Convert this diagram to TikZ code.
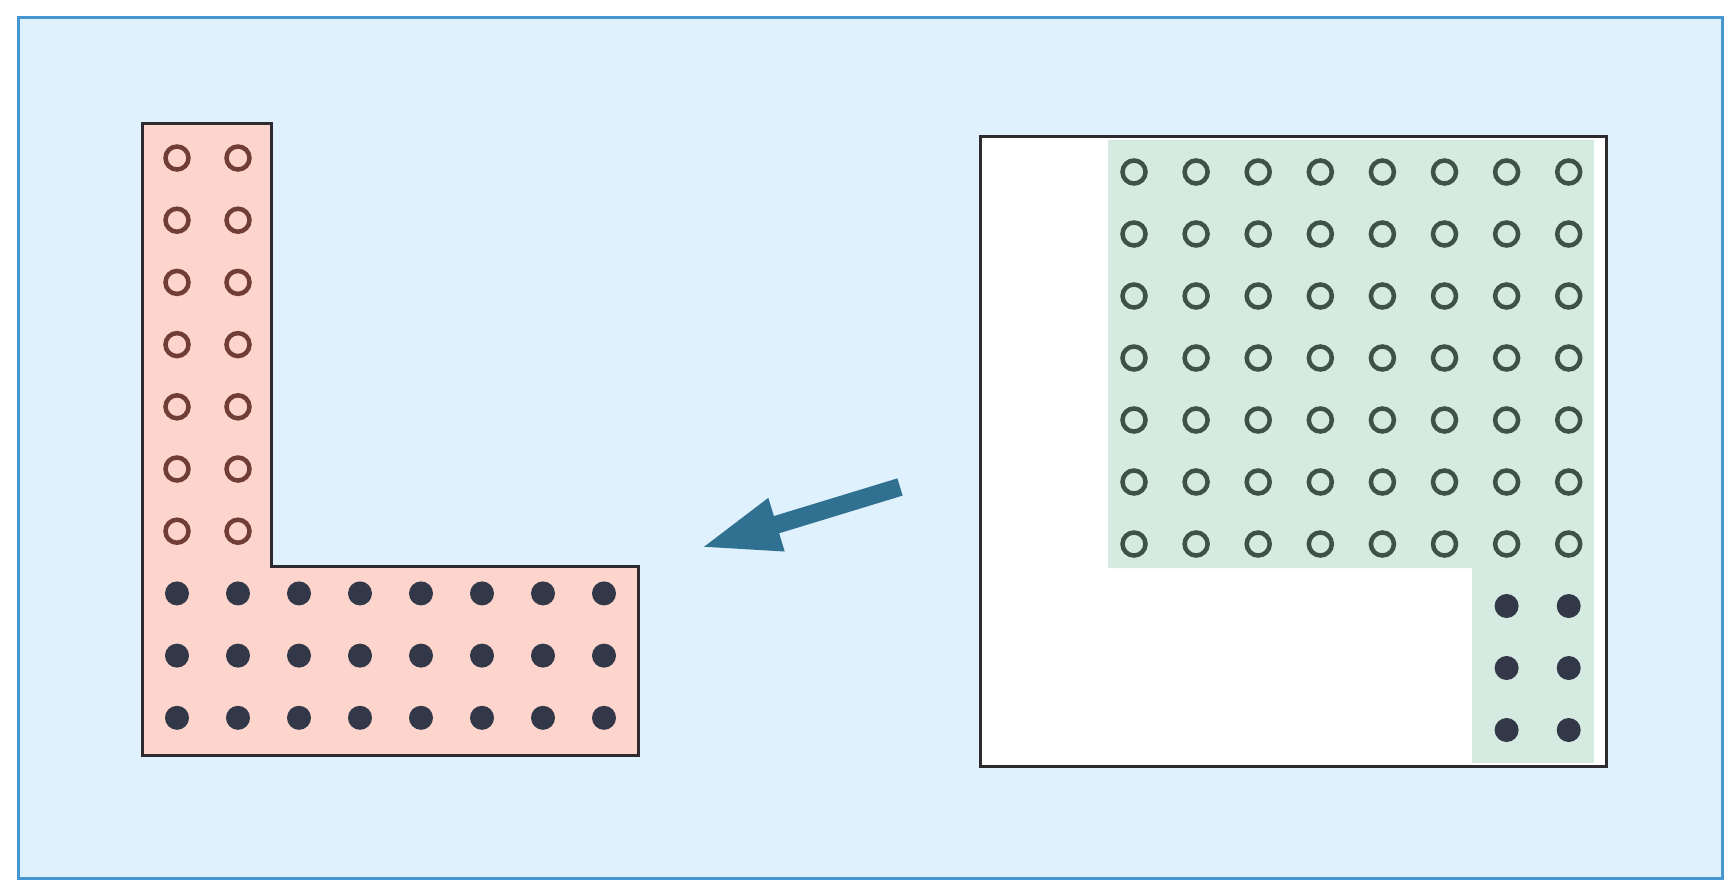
\documentclass[tikz,border=0pt]{standalone}
\usepackage{tikz}
\usetikzlibrary{arrows.meta}
\definecolor{GridSky}{RGB}{224,241,254}
\definecolor{GridFrame}{RGB}{70,150,210}
\definecolor{GridPink}{RGB}{253,213,205}
\definecolor{GridMint}{RGB}{213,234,225}
\definecolor{GridInk}{RGB}{45,42,48}
\definecolor{GridBrown}{RGB}{112,62,52}
\definecolor{GridMoss}{RGB}{62,82,72}
\definecolor{GridNavy}{RGB}{50,56,72}
\definecolor{GridTeal}{RGB}{48,112,145}
\tikzset{
  grid/frame/.style={draw=GridFrame, line width=3pt, fill=GridSky},
  grid/lshape/.style={draw=GridInk, line width=3pt, fill=GridPink},
  grid/box/.style={draw=GridInk, line width=3pt, fill=white},
  grid/mint/.style={fill=GridMint, draw=none},
  grid/ring/.style={circle, draw=#1, line width=4.5pt, fill=none, minimum size=23pt, inner sep=0pt},
  grid/dot/.style={circle, fill=GridNavy, draw=none, minimum size=24pt, inner sep=0pt},
  grid/arrow/.style={-{Triangle[length=80pt,width=50pt]}, line width=18pt, draw=GridTeal}
}
\begin{document}
\begin{tikzpicture}[x=1pt,y=-1pt]
  \useasboundingbox (0,0) rectangle (1735,895);
  \fill[white] (0,0) rectangle (1735,895);
  \draw[grid/frame] (18,17) rectangle (1722,878);

  % left: L-shaped plate
  \draw[grid/lshape] (142,123) -- (271,123) -- (271,566) -- (638,566)
    -- (638,755) -- (142,755) -- cycle;
  \foreach \c in {0,1}
    \foreach \r in {0,...,6}
      \node[grid/ring=GridBrown] (lring-\c-\r) at (177+61*\c,158+62.2*\r) {};
  \foreach \c in {0,...,7}
    \foreach \r in {7,8,9}
      \node[grid/dot] (ldot-\c-\r) at (177+61*\c,158+62.2*\r) {};

  % right: square plate
  \draw[grid/box] (980,136) rectangle (1606,766);
  \fill[grid/mint] (1108,140) -- (1594,140) -- (1594,763) -- (1472,763)
    -- (1472,568) -- (1108,568) -- cycle;
  \foreach \c in {0,...,7}
    \foreach \r in {0,...,6}
      \node[grid/ring=GridMoss] (rring-\c-\r) at (1134+62.1*\c,172+62*\r) {};
  \foreach \c in {6,7}
    \foreach \r in {7,8,9}
      \node[grid/dot] (rdot-\c-\r) at (1134+62.1*\c,172+62*\r) {};

  % arrow
  \coordinate (arrowtail) at (900,487);
  \coordinate (arrowtip) at (700,548);
  \draw[grid/arrow] (arrowtail) -- (arrowtip);
\end{tikzpicture}
\end{document}
